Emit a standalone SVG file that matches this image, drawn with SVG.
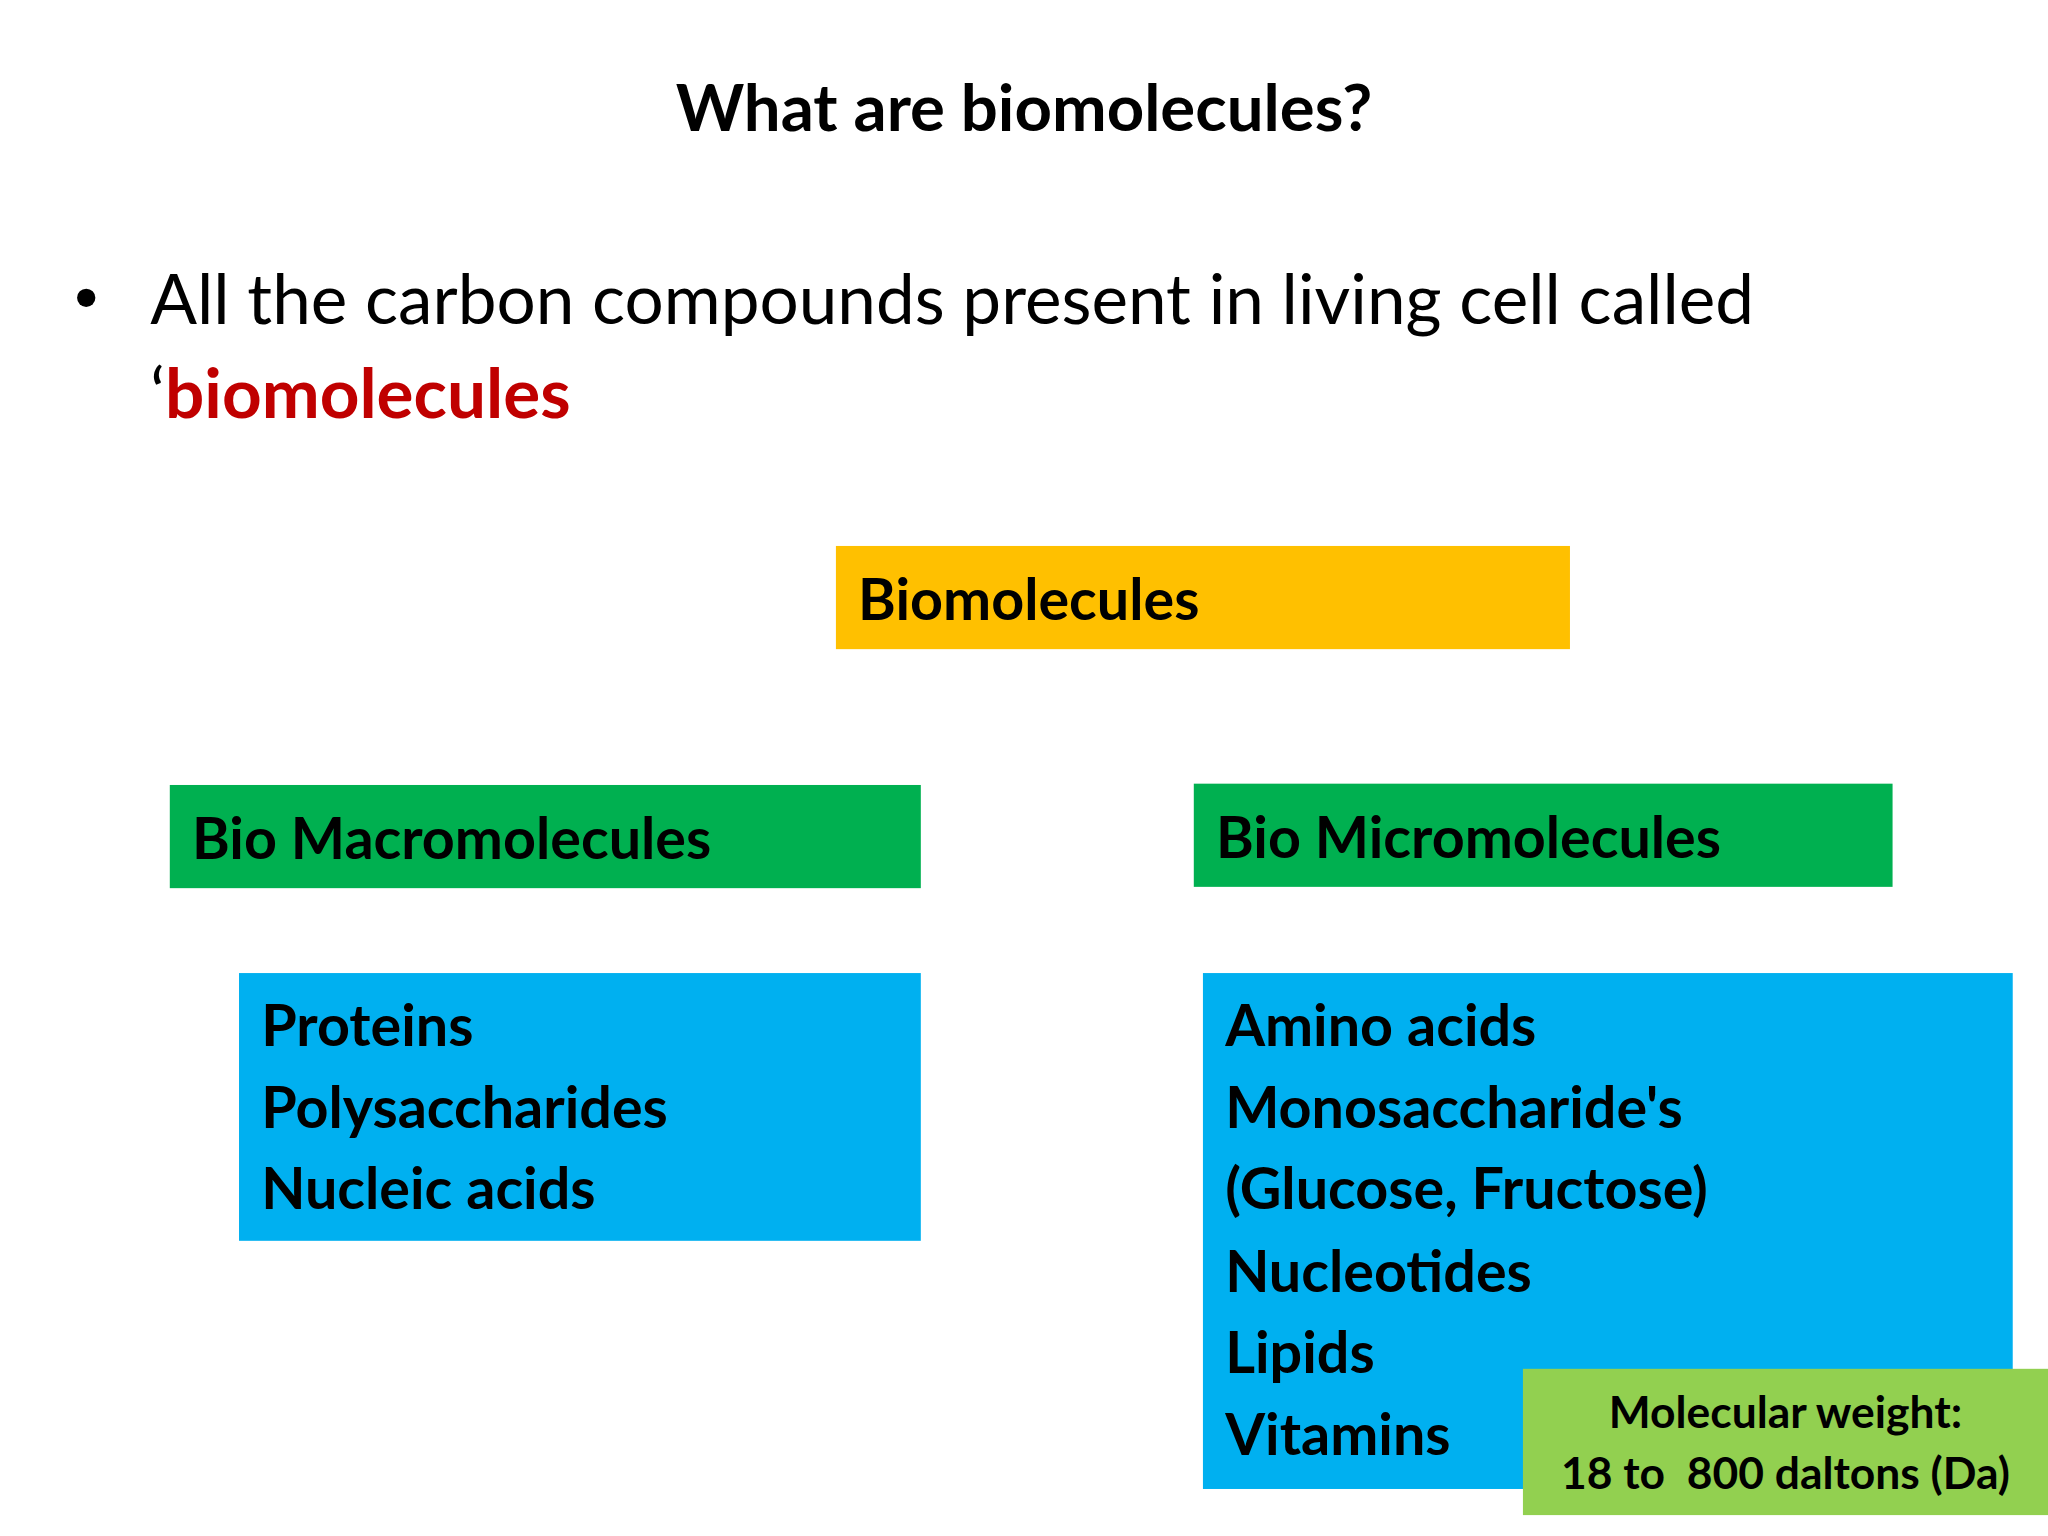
<svg xmlns="http://www.w3.org/2000/svg" width="2048" height="1536" viewBox="0 0 2048 1536">
<style>
text{font-family:Lato,"Open Sans","Liberation Sans",sans-serif;fill:#000}
.b{font-weight:bold;font-size:44px}
</style>
<rect width="2048" height="1536" fill="#fff"/>
<g transform="scale(1.30612)">
<g id="title"><text x="784" y="100" text-anchor="middle" font-size="50" font-weight="bold">What are biomolecules?</text></g>
<g id="bullet">
<circle cx="66" cy="228" r="7" fill="#000"/>
<text x="115" y="248" font-size="53">All the carbon compounds present in living cell called</text>
<text x="115" y="320" font-size="53">‘<tspan fill="#C00000" font-weight="bold">biomolecules</tspan></text>
</g>
<g id="connectors"></g>
<g id="biomolecules"><rect x="640" y="418" width="562" height="79" fill="#FFC000"/><text class="b" x="657" y="475">Biomolecules</text></g>
<g id="macro"><rect x="130" y="601" width="575" height="79" fill="#00B050"/><text class="b" x="147" y="658">Bio Macromolecules</text></g>
<g id="micro"><rect x="914" y="600" width="535" height="79" fill="#00B050"/><text class="b" x="931" y="657">Bio Micromolecules</text></g>
<g id="macro-list"><rect x="183" y="745" width="522" height="205" fill="#00B0F0"/>
<text class="b" x="200" y="801">Proteins</text>
<text class="b" x="200" y="864">Polysaccharides</text>
<text class="b" x="200" y="926">Nucleic acids</text></g>
<g id="micro-list"><rect x="921" y="745" width="620" height="395" fill="#00B0F0"/>
<text class="b" x="938" y="801">Amino acids</text>
<text class="b" x="938" y="864">Monosaccharide's</text>
<text class="b" x="938" y="926"> (Glucose, Fructose)</text>
<text class="b" x="938" y="989">Nucleotides</text>
<text class="b" x="938" y="1051">Lipids</text>
<text class="b" x="938" y="1114">Vitamins</text></g>
<g id="weight"><rect x="1166" y="1048" width="402" height="112" fill="#92D050"/>
<text x="1367" y="1093" text-anchor="middle" font-size="34" font-weight="bold">Molecular weight:</text>
<text x="1367" y="1140" text-anchor="middle" font-size="34" font-weight="bold" xml:space="preserve">18 to  800 daltons (Da)</text></g>
</g>
</svg>
